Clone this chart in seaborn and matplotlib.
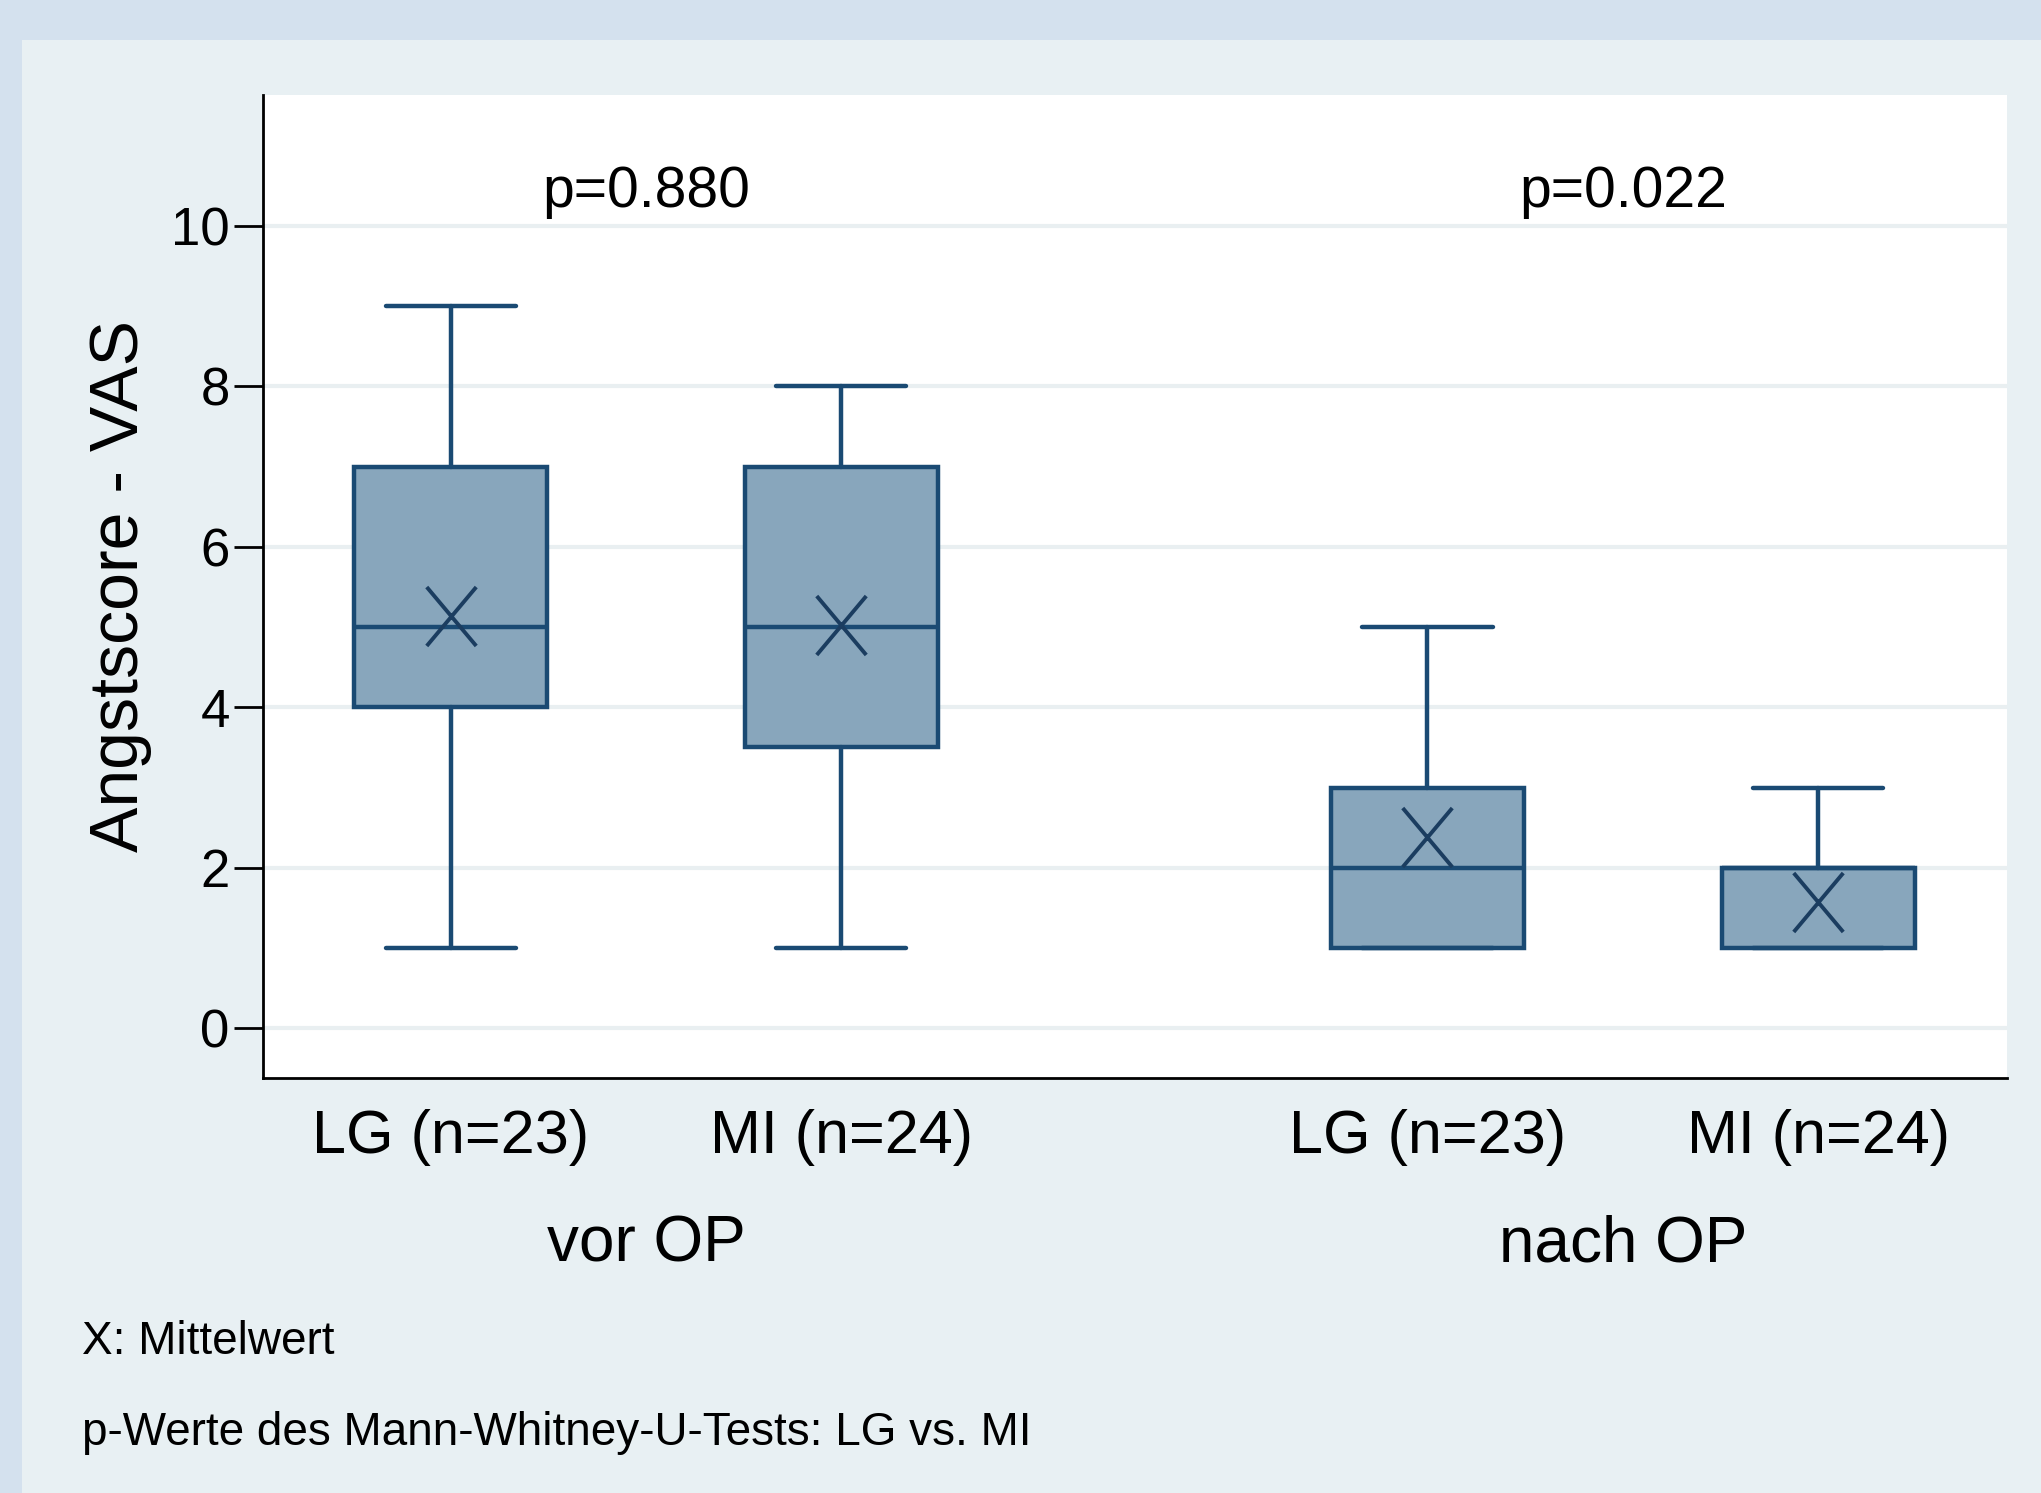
import matplotlib
matplotlib.use("Agg")
import matplotlib.pyplot as plt
from matplotlib.path import Path
import seaborn as sns
import pandas as pd

# ---- data ----
groups = ["LG (n=23)", "MI (n=24)", "LG (n=23)", "MI (n=24)"]
phases = ["vor OP", "vor OP", "nach OP", "nach OP"]
positions = [0, 1, 2.5, 3.5]
whis_lo = [1, 1, 1, 1]
q1 = [4, 3.5, 1, 1]
medians = [5, 5, 2, 2]
q3 = [7, 7, 3, 2]
whis_hi = [9, 8, 5, 3]
means = [5.14, 5.02, 2.38, 1.57]
phase_labels = ["vor OP", "nach OP"]
phase_centers = [0.5, 3.0]
p_values = ["p=0.880", "p=0.022"]
y_ticks = [0, 2, 4, 6, 8, 10]

sns.set_theme(style="white")
plt.rcParams["font.family"] = ["Liberation Sans", "DejaVu Sans"]
plt.rcParams["text.color"] = "black"
plt.rcParams["xtick.color"] = "black"
plt.rcParams["ytick.color"] = "black"
plt.rcParams["axes.labelcolor"] = "black"

W, H = 2041, 1493
fig = plt.figure(figsize=(W / 100, H / 100), dpi=100)
fig.patch.set_facecolor("#d4e1ee")
# inner background panel
bg = fig.add_axes([22 / W, 0, 1 - 22 / W, 1 - 40 / H])
bg.set_facecolor("#e8f0f3")
bg.set_xticks([]); bg.set_yticks([])
for s in bg.spines.values():
    s.set_visible(False)
bg.set_zorder(0)

left, right, top, bottom = 263, 2007, 95, 1078
ax = fig.add_axes([left / W, 1 - bottom / H, (right - left) / W, (bottom - top) / H])
ax.set_zorder(2)
ax.set_facecolor("white")

fill = "#88a6bc"
edge = "#1a4a73"
stats = []
for i in range(len(positions)):
    stats.append(dict(med=medians[i], q1=q1[i], q3=q3[i], whislo=whis_lo[i],
                      whishi=whis_hi[i], fliers=[], label=groups[i]))
ax.bxp(stats, positions=positions, widths=0.495, patch_artist=True, showfliers=False,
       boxprops=dict(facecolor=fill, edgecolor=edge, linewidth=3.2),
       medianprops=dict(color=edge, linewidth=3.2),
       whiskerprops=dict(color=edge, linewidth=3.2),
       capprops=dict(color=edge, linewidth=3.2),
       capwidths=0.333, zorder=3)

# letter-like "X" marker (taller than wide)
x_marker = Path([(-0.42, -0.5), (0.42, 0.5), (-0.42, 0.5), (0.42, -0.5)],
                [Path.MOVETO, Path.LINETO, Path.MOVETO, Path.LINETO])
df = pd.DataFrame({"pos": positions, "mean": means})
sns.scatterplot(data=df, x="pos", y="mean", marker=x_marker, s=1800, color="#1b3d60",
                edgecolor="#1b3d60", linewidth=2.8, ax=ax, zorder=5, legend=False)

ax.set_xlim(-0.48, 3.983)
ax.set_ylim(-0.62, 11.63)
ax.set_yticks(y_ticks)
ax.set_yticklabels([str(t) for t in y_ticks], fontsize=38)
ax.set_xticks(positions)
ax.set_xticklabels(groups, fontsize=44)
ax.tick_params(axis="y", length=21, width=2, color="black", pad=3, left=True)
ax.tick_params(axis="x", length=0, pad=22)
ax.yaxis.grid(True, color="#e9eff1", linewidth=3)
ax.set_axisbelow(True)
for s in ["top", "right"]:
    ax.spines[s].set_visible(False)
for s in ["left", "bottom"]:
    ax.spines[s].set_color("black")
    ax.spines[s].set_linewidth(2)
ax.set_xlabel("")
ax.set_ylabel("Angstscore - VAS", fontsize=49, labelpad=14)

for c, p in zip(phase_centers, p_values):
    ax.text(c, 10.42, p, ha="center", va="center", fontsize=41, color="black")

for c, lab in zip(phase_centers, phase_labels):
    xf = (ax.transData.transform((c, 0))[0]) / W
    fig.text(xf, 1 - 1245 / H, lab, ha="center", va="center", fontsize=46, color="black")

fig.text(82 / W, 1 - 1342 / H, "X: Mittelwert", ha="left", va="center", fontsize=33)
fig.text(82 / W, 1 - 1433 / H, "p-Werte des Mann-Whitney-U-Tests: LG vs. MI",
         ha="left", va="center", fontsize=33)

fig.savefig("out.png", dpi=100, facecolor=fig.get_facecolor())
